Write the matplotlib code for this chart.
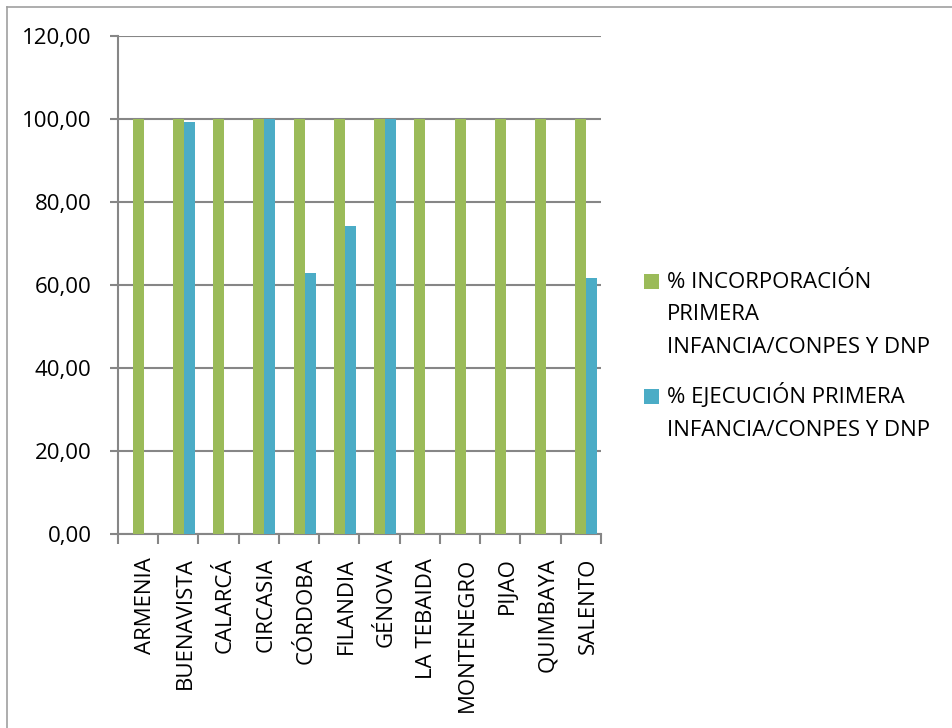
import matplotlib
matplotlib.use("Agg")
import matplotlib.pyplot as plt
import numpy as np
from matplotlib.lines import Line2D
from matplotlib.patches import Rectangle
from matplotlib.transforms import ScaledTranslation

categories = ["ARMENIA", "BUENAVISTA", "CALARCÁ", "CIRCASIA", "CÓRDOBA", "FILANDIA",
              "GÉNOVA", "LA TEBAIDA", "MONTENEGRO", "PIJAO", "QUIMBAYA", "SALENTO"]
incorporacion = [100, 100, 100, 100, 100, 100, 100, 100, 100, 100, 100, 100]
ejecucion = [0, 99.3, 0, 100, 62.8, 74.1, 100, 0, 0, 0, 0, 61.7]
yticks = [0, 20, 40, 60, 80, 100, 120]
label_inc = "% INCORPORACIÓN\nPRIMERA\nINFANCIA/CONPES Y DNP"
label_eje = "% EJECUCIÓN PRIMERA\nINFANCIA/CONPES Y DNP"

green = "#9BBB59"
blue = "#4BACC6"
gray = "#868686"
FS = 16

plt.rcParams['font.family'] = ['Open Sans', 'DejaVu Sans']

W, H = 953, 728
fig = plt.figure(figsize=(W/100, H/100), dpi=100)
ax = fig.add_axes([118/W, 1-534/H, (601-118)/W, (534-36)/H])

x = np.arange(len(categories))
w = 0.275
ax.bar(x, incorporacion, width=w, color=green, zorder=3)
ax.bar(x + w, ejecucion, width=w, color=blue, zorder=3)

ax.set_xlim(-0.5, len(categories) - 0.5)
ax.set_ylim(0, 120)
ax.set_yticks(yticks)
ax.set_yticklabels([f"{v:.2f}".replace(".", ",") for v in yticks], fontsize=FS)
ax.yaxis.grid(True, color=gray, linewidth=1.5, zorder=0)
ax.set_axisbelow(True)

ax.set_xticks(x)
ax.set_xticklabels(categories, rotation=90, fontsize=FS, va="top", ha="center")
ax.set_xticks(np.arange(len(categories) + 1) - 0.5, minor=True)
ax.tick_params(axis="x", which="major", length=0, pad=17)
ax.tick_params(axis="x", which="minor", length=7, width=1.5, color=gray)
ax.tick_params(axis="y", length=6, width=1.5, color=gray, pad=13)
for lab in ax.get_xticklabels():
    lab.set_transform(lab.get_transform() + ScaledTranslation(7/100, 0, fig.dpi_scale_trans))

for s in ["top", "right"]:
    ax.spines[s].set_visible(False)
for s in ["left", "bottom"]:
    ax.spines[s].set_color(gray)
    ax.spines[s].set_linewidth(1.5)

# legend drawn manually (marker aligned with first text line)
line_step = 32.5
entries = [(green, label_inc, 288), (blue, label_eje, 403)]
for color, label, base in entries:
    fig.add_artist(Rectangle((644/W, 1-(base + 1)/H), 15/W, 15/H, transform=fig.transFigure,
                             facecolor=color, edgecolor="none"))
    for i, line in enumerate(label.split("\n")):
        fig.text(667/W, 1-(base + i*line_step)/H, line, fontsize=FS, va="baseline", ha="left")

# outer frame
fig.add_artist(Line2D([7/W, 7/W], [0, 1-7/H], color="#A0A0A0", linewidth=1.2, transform=fig.transFigure))
fig.add_artist(Line2D([7/W, 1], [1-7/H, 1-7/H], color="#A0A0A0", linewidth=1.2, transform=fig.transFigure))

fig.savefig("out.png", dpi=100)
